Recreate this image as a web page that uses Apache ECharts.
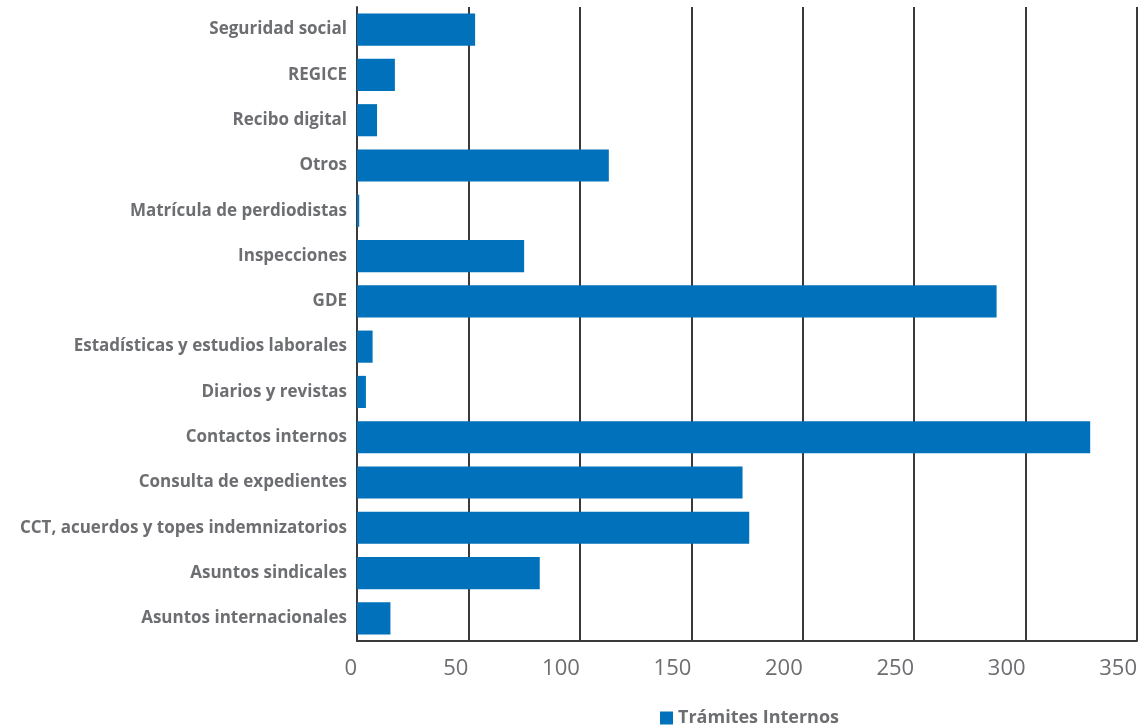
<!DOCTYPE html>
<html><head><meta charset="utf-8">
<script src="https://cdn.jsdelivr.net/npm/echarts@6/dist/echarts.min.js"></script>
<style>html,body{margin:0;padding:0;background:#fff}#c{width:1143px;height:726px}</style>
</head><body><div id="c"></div>
<script>
const categories = ["Asuntos internacionales","Asuntos sindicales","CCT, acuerdos y topes indemnizatorios","Consulta de expedientes","Contactos internos","Diarios y revistas","Estadísticas y estudios laborales","GDE","Inspecciones","Matrícula de perdiodistas","Otros","Recibo digital","REGICE","Seguridad social"];
const values = [15,82,176,173,329,4,7,287,75,1,113,9,17,53];
const seriesName = "Trámites Internos";
const xTicks = {min:0,max:350,interval:50};

const chart = echarts.init(document.getElementById('c'));
chart.setOption({
  animation:false,
  backgroundColor:'#fff',
  grid:{left:357,right:6,top:7,bottom:85,containLabel:false},
  legend:{data:[seriesName],left:655,top:704,itemWidth:13,itemHeight:13,itemGap:10,icon:'rect',
    textStyle:{fontFamily:'Open Sans',fontWeight:'bold',fontSize:18,color:'#6d6e71'}},
  xAxis:{type:'value',min:xTicks.min,max:xTicks.max,interval:xTicks.interval,
    axisLine:{show:true,lineStyle:{color:'#3a3a3a',width:2}},
    axisTick:{show:false},
    splitLine:{show:true,lineStyle:{color:'#3a3a3a',width:2}},
    axisLabel:{align:'right',margin:17,fontFamily:'Open Sans',fontSize:22,color:'#6d6e71'}},
  yAxis:{type:'category',data:categories,
    axisLine:{show:true,lineStyle:{color:'#3a3a3a',width:2}},
    axisTick:{show:false},
    axisLabel:{margin:10,fontFamily:'Open Sans',fontWeight:'bold',fontSize:17,color:'#6d6e71'}},
  series:[{name:seriesName,type:'bar',data:values,barCategoryGap:'29%',
    itemStyle:{color:'#0071BA'}}]
});
</script></body></html>
